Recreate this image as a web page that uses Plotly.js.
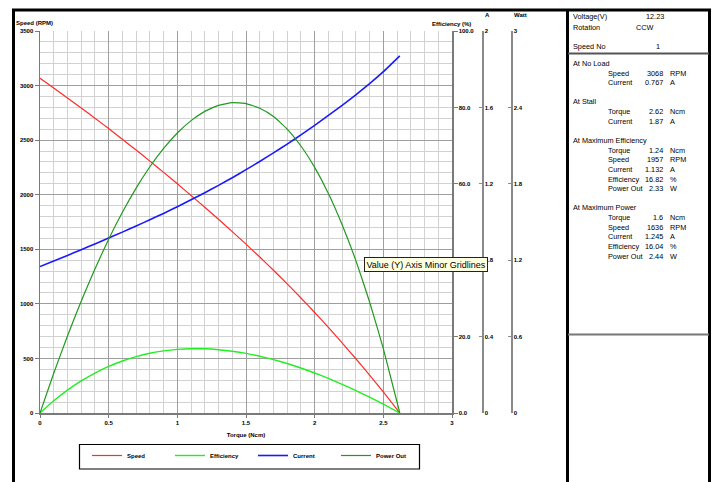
<!DOCTYPE html>
<html>
<head>
<meta charset="utf-8">
<script src="https://cdn.plot.ly/plotly-3.0.1.min.js"></script>
<style>
  html, body { margin: 0; padding: 0; background: #ffffff; }
  #chart { width: 714px; height: 482px; }
</style>
</head>
<body>
<div id="chart"></div>
<script>
// ---- data ----
const torque     = [0, 0.1, 0.2, 0.3, 0.4, 0.5, 0.6, 0.7, 0.8, 0.9, 1.0, 1.1, 1.2, 1.3,
                    1.4, 1.5, 1.6, 1.7, 1.8, 1.9, 2.0, 2.1, 2.2, 2.3, 2.4, 2.5, 2.62];
const speed      = [3068, 2978, 2887, 2795, 2701, 2606, 2508, 2409, 2308, 2205, 2100, 1993, 1885, 1775,
                    1662, 1547, 1429, 1308, 1183, 1054, 921, 784, 642, 497, 347, 193, 0];
const efficiency = [0, 3.2, 6.0, 8.4, 10.45, 12.18, 13.61, 14.75, 15.63, 16.26, 16.65, 16.82, 16.8, 16.57,
                    16.17, 15.6, 14.86, 13.98, 12.95, 11.78, 10.47, 9.05, 7.51, 5.87, 4.14, 2.31, 0];
const current    = [0.767, 0.796, 0.825, 0.855, 0.885, 0.916, 0.947, 0.979, 1.012, 1.045, 1.080, 1.116, 1.153, 1.192,
                    1.232, 1.274, 1.317, 1.362, 1.408, 1.456, 1.506, 1.558, 1.611, 1.666, 1.724, 1.787, 1.870];
const powerOut   = [0, 0.312, 0.605, 0.878, 1.131, 1.365, 1.576, 1.766, 1.934, 2.078, 2.199, 2.296, 2.369, 2.416,
                    2.437, 2.430, 2.393, 2.329, 2.230, 2.097, 1.929, 1.724, 1.479, 1.197, 0.872, 0.505, 0];

const seriesNames = ['Speed', 'Efficiency', 'Current', 'Power Out'];

const xTickVals  = [0, 0.5, 1, 1.5, 2, 2.5, 3];
const xTickText  = ['0', '0.5', '1', '1.5', '2', '2.5', '3'];
const effTickVals = [0, 20, 40, 60, 80, 100];
const effTickText = ['0.0', '20.0', '', '60.0', '80.0', '100.0']; // 40.0 is hidden under the tooltip
const ampTickVals = [0, 0.4, 0.8, 1.2, 1.6, 2];
const ampTickText = ['0', '0.4', '0.8', '1.2', '1.6', '2'];
const wattTickVals = [0, 0.6, 1.2, 1.8, 2.4, 3];
const wattTickText = ['0', '0.6', '1.2', '1.8', '2.4', '3'];

// right info panel
const infoTop = [['Voltage(V)', '12.23'], ['Rotation', 'CCW'], ['Speed No', '1']];
const infoSections = ['At No Load', 'At Stall', 'At Maximum Efficiency', 'At Maximum Power'];
const infoLabels = [
  ['Speed', 'Current'],
  ['Torque', 'Current'],
  ['Torque', 'Speed', 'Current', 'Efficiency', 'Power Out'],
  ['Torque', 'Speed', 'Current', 'Efficiency', 'Power Out']
];
const infoValues = [
  ['3068', '0.767'],
  ['2.62', '1.87'],
  ['1.24', '1957', '1.132', '16.82', '2.33'],
  ['1.6', '1636', '1.245', '16.04', '2.44']
];
const infoUnits = [
  ['RPM', 'A'],
  ['Ncm', 'A'],
  ['Ncm', 'RPM', 'A', '%', 'W'],
  ['Ncm', 'RPM', 'A', '%', 'W']
];

// ---- layout helpers (pixel -> paper) ----
const W = 714, H = 482;
const px = v => v / W;
const py = v => 1 - v / H;

const FONT = 'Liberation Sans, Arial, sans-serif';
const tickFont = { family: FONT, size: 6, color: '#000', weight: 'bold' };

const traces = [
  { x: torque, y: speed, name: seriesNames[0], yaxis: 'y',
    line: { color: '#ff2a2a', width: 1.2, shape: 'spline', smoothing: 0.4 } },
  { x: torque, y: efficiency, name: seriesNames[1], yaxis: 'y2',
    line: { color: '#22ee22', width: 1.4, shape: 'spline', smoothing: 0.4 } },
  { x: torque, y: current, name: seriesNames[2], yaxis: 'y3',
    line: { color: '#1a1aff', width: 1.6, shape: 'spline', smoothing: 0.4 } },
  { x: torque, y: powerOut, name: seriesNames[3], yaxis: 'y4',
    line: { color: '#1f9a1f', width: 1.2, shape: 'spline', smoothing: 0.4 } }
].map(t => Object.assign({ type: 'scatter', mode: 'lines', hoverinfo: 'skip' }, t));

const annotations = [];
function txt(text, x, y, anchor, size, bold, extra) {
  annotations.push(Object.assign({
    text: text, xref: 'paper', yref: 'paper', x: px(x), y: py(y),
    xanchor: anchor, yanchor: 'middle', showarrow: false,
    font: { family: FONT, size: size, color: '#000', weight: bold ? 'bold' : 'normal' }
  }, extra || {}));
}

// axis captions placed like the reference
txt('Speed (RPM)', 14, 23, 'left', 6, true);
txt('Efficiency (%)', 451, 24, 'center', 6, true);
txt('A', 487, 15, 'center', 6, true);
txt('Watt', 520, 15, 'center', 6, true);

// info panel
const PF = 7.3;
const topRows = [17, 27, 46];
infoTop.forEach((r, i) => {
  txt(r[0], 571, topRows[i], 'left', PF, false);
  const vx = i === 0 ? 666 : (i === 1 ? 656 : 662);
  txt(r[1], vx, topRows[i], 'right', PF, false);
});
let yCur = 63.5;
const rowStep = 9.7;
infoSections.forEach((sec, s) => {
  txt(sec, 571, yCur, 'left', PF, false);
  infoLabels[s].forEach((lab, j) => {
    yCur += rowStep;
    txt(lab, 606, yCur, 'left', PF, false);
    txt(infoValues[s][j], 665, yCur, 'right', PF, false);
    txt(infoUnits[s][j], 668, yCur, 'left', PF, false);
  });
  yCur += 19;
});

// tooltip seen in the reference
annotations.push({
  text: 'Value (Y) Axis Minor Gridlines', xref: 'paper', yref: 'paper',
  x: px(363.5), y: py(264.5), xanchor: 'left', yanchor: 'middle', showarrow: false,
  font: { family: FONT, size: 9, color: '#000' },
  bgcolor: '#ffffe1', bordercolor: '#222', borderwidth: 1, borderpad: 1.5
});

function hline(x0, x1, y, color, w) {
  return { type: 'line', xref: 'paper', yref: 'paper', x0: px(x0), x1: px(x1), y0: py(y), y1: py(y),
           line: { color: color, width: w } };
}
function vline(x, y0, y1, color, w) {
  return { type: 'line', xref: 'paper', yref: 'paper', x0: px(x), x1: px(x), y0: py(y0), y1: py(y1),
           line: { color: color, width: w } };
}
const shapes = [
  hline(12, 711, 10, '#000', 3),
  vline(13.5, 9, 482, '#000', 3),
  vline(567.5, 9, 482, '#000', 3),
  vline(709.5, 9, 482, '#000', 3),
  hline(568, 709, 53.5, '#555', 2),
  hline(568, 709, 334.5, '#777', 2),
  { type: 'rect', xref: 'paper', yref: 'paper', x0: px(79.5), x1: px(419.5), y0: py(469), y1: py(444.5),
    line: { color: '#000', width: 1.2 }, fillcolor: 'rgba(0,0,0,0)' }
];

const gridMajor = '#9e9e9e', gridMinor = '#d2d2d2', axisCol = '#7a7a7a';
const xDom = [px(40), px(452)];
const yDom = [py(413), py(31)];

const layout = {
  width: W, height: H,
  margin: { l: 0, r: 0, t: 0, b: 0, pad: 0 },
  paper_bgcolor: '#ffffff', plot_bgcolor: '#ffffff',
  showlegend: true,
  legend: {
    orientation: 'h', x: px(87), y: py(441), xanchor: 'left', yanchor: 'top',
    bgcolor: 'rgba(0,0,0,0)', borderwidth: 0,
    entrywidth: 38, entrywidthmode: 'pixels', itemwidth: 30,
    font: { family: FONT, size: 6, color: '#000', weight: 'bold' },
    traceorder: 'normal'
  },
  xaxis: {
    domain: xDom, range: [0, 3], tickvals: xTickVals, ticktext: xTickText,
    showgrid: true, gridcolor: gridMajor, gridwidth: 1,
    minor: { dtick: 0.1, tick0: 0, showgrid: true, gridcolor: gridMinor, gridwidth: 1 },
    showline: true, linecolor: axisCol, linewidth: 1.5, mirror: false,
    ticks: 'outside', ticklen: 3, tickcolor: axisCol, tickfont: tickFont,
    zeroline: false, fixedrange: true,
    title: { text: 'Torque (Ncm)', font: { family: FONT, size: 6, color: '#000', weight: 'bold' }, standoff: 8 }
  },
  yaxis: {
    domain: yDom, range: [0, 3500], dtick: 500, tick0: 0,
    showgrid: true, gridcolor: gridMajor, gridwidth: 1,
    minor: { dtick: 100, tick0: 0, showgrid: true, gridcolor: gridMinor, gridwidth: 1 },
    showline: true, linecolor: axisCol, linewidth: 1.5,
    ticks: 'outside', ticklen: 4, tickcolor: axisCol, tickfont: tickFont,
    zeroline: false, fixedrange: true
  },
  yaxis2: {
    overlaying: 'y', side: 'right', anchor: 'x', range: [0, 100],
    tickvals: effTickVals, ticktext: effTickText,
    showgrid: false, zeroline: false, showline: true, linecolor: axisCol, linewidth: 1.5,
    ticks: 'outside', ticklen: 4, tickcolor: axisCol, tickfont: tickFont, fixedrange: true
  },
  yaxis3: {
    overlaying: 'y', side: 'right', anchor: 'free', position: px(482.5), range: [0, 2],
    tickvals: ampTickVals, ticktext: ampTickText,
    showgrid: false, zeroline: false, showline: true, linecolor: '#8a8a8a', linewidth: 2,
    ticks: 'inside', ticklen: 3, tickcolor: '#8a8a8a', tickfont: tickFont, fixedrange: true
  },
  yaxis4: {
    overlaying: 'y', side: 'right', anchor: 'free', position: px(511.5), range: [0, 3],
    tickvals: wattTickVals, ticktext: wattTickText,
    showgrid: false, zeroline: false, showline: true, linecolor: '#8a8a8a', linewidth: 2,
    ticks: 'inside', ticklen: 3, tickcolor: '#8a8a8a', tickfont: tickFont, fixedrange: true
  },
  annotations: annotations,
  shapes: shapes
};

Plotly.newPlot('chart', traces, layout, { staticPlot: true, displayModeBar: false });
</script>
</body>
</html>
